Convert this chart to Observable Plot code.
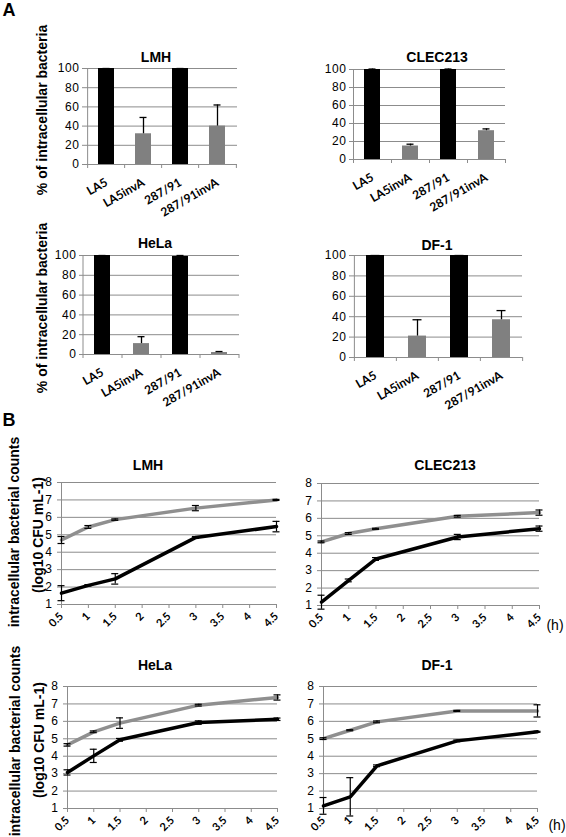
<!DOCTYPE html>
<html><head><meta charset="utf-8">
<script src="https://cdn.jsdelivr.net/npm/d3@7"></script>
<script src="https://cdn.jsdelivr.net/npm/@observablehq/plot@0.6"></script>
<style>
body{margin:0;background:#fff;}
#fig{position:relative;width:566px;height:837px;background:#fff;overflow:hidden;font-family:"Liberation Sans",Arial,sans-serif;color:#000;}
.abs{position:absolute;white-space:nowrap;line-height:1;}
.title{font-weight:bold;font-size:14px;transform:translate(-50%,-50%);}
.ylab{font-weight:bold;font-size:14px;transform:translate(-50%,-50%) rotate(-90deg);}
.panel{font-weight:bold;font-size:18px;transform:translate(-50%,-50%);}
.unit{font-size:14px;transform:translate(-50%,-50%);}
g[aria-label="y-axis tick label"] text{letter-spacing:0.6px;}
</style></head><body><div id="fig"></div><script>
// ---------- data ----------
const barCategories = ["LA5", "LA5invA", "287/91", "287/91invA"];
const pctTicks = [0, 20, 40, 60, 80, 100];

const lmhPct = [100, 32, 100, 40];
const lmhPctErr = [0, 17, 0, 22];
const clecPct = [100, 15, 100, 32];
const clecPctErr = [0.5, 2, 0.5, 2];
const helaPct = [100, 11, 99, 2];
const helaPctErr = [0, 7, 1, 1];
const df1Pct = [100, 21, 100, 37];
const df1PctErr = [0, 16, 0, 9];

const hours = [0.5, 1, 1.5, 3, 4.5];
const timeTicks = [0.5, 1, 1.5, 2, 2.5, 3, 3.5, 4, 4.5];
const countTicks = [1, 2, 3, 4, 5, 6, 7, 8];

const lmhSeries1 = [4.7, 5.45, 5.87, 6.53, 7.0];
const lmhSeries1Err = [0.2, 0.08, 0.04, 0.15, 0.03];
const lmhSeries2 = [1.65, 2.1, 2.47, 4.85, 5.47];
const lmhSeries2Err = [0.43, 0.04, 0.3, 0.05, 0.3];

const clecSeries1 = [4.65, 5.13, 5.4, 6.12, 6.33];
const clecSeries1Err = [0.05, 0.05, 0.03, 0.05, 0.15];
const clecSeries2 = [1.19, 2.44, 3.67, 4.93, 5.41];
const clecSeries2Err = [0.4, 0.08, 0.08, 0.15, 0.15];

const helaSeries1 = [4.65, 5.4, 5.9, 6.93, 7.37];
const helaSeries1Err = [0.07, 0.05, 0.3, 0.05, 0.15];
const helaSeries2 = [3.07, 4.02, 4.94, 5.93, 6.12];
const helaSeries2Err = [0.15, 0.38, 0.08, 0.1, 0.07];

const df1Series1 = [5.01, 5.49, 5.97, 6.6, 6.6];
const df1Series1Err = [0.05, 0.03, 0.05, 0.03, 0.35];
const df1Series2 = [1.15, 1.67, 3.45, 4.88, 5.4];
const df1Series2Err = [0.48, 1.1, 0.05, 0.05, 0.03];

// ---------- drawing ----------
const GRID = "#8c8c8c";
const GRAYBAR = "#808080";
const GRAYLINE = "#8f8f8f";
const fig = document.getElementById("fig");
const M = {left: 45, right: 30, top: 12, bottom: 60};

function place(node, left, top) {
  node.style.position = "absolute";
  node.style.left = left + "px";
  node.style.top = top + "px";
  fig.appendChild(node);
}
function label(text, x, y, cls) {
  const d = document.createElement("div");
  d.className = "abs " + cls;
  d.textContent = text;
  d.style.left = x + "px";
  d.style.top = y + "px";
  fig.appendChild(d);
}

function barPanel(values, errors, frame) {
  const [x0, y0, x1, y1] = frame;
  const fw = x1 - x0, fh = y1 - y0;
  const step = fw / barCategories.length;
  const tickLen = 4 * 100 / fh;
  const rows = barCategories.map((c, i) => ({cat: c, v: values[i], e: errors[i]}));
  const svg = Plot.plot({
    width: fw + M.left + M.right, height: fh + M.top + M.bottom,
    marginLeft: M.left, marginRight: M.right, marginTop: M.top, marginBottom: M.bottom,
    style: {background: "none", overflow: "visible", fontFamily: "Liberation Sans, Arial, sans-serif"},
    x: {domain: barCategories, paddingInner: 0.58, paddingOuter: 0.29, label: null, axis: null},
    y: {domain: [0, 100], label: null, axis: null},
    marks: [
      Plot.ruleY(pctTicks.filter(t => t > 0), {stroke: GRID, strokeWidth: 1}),
      Plot.barY(rows, {x: "cat", y: "v", fill: d => d.cat.endsWith("invA") ? GRAYBAR : "#000"}),
      Plot.ruleX(rows, {x: "cat", y1: "v", y2: d => d.v + d.e, stroke: "#000", strokeWidth: 1.3}),
      Plot.tickY(rows, {x: "cat", y: d => d.v + d.e, stroke: "#000", strokeWidth: 1.3, insetLeft: 4.5, insetRight: 4.5}),
      Plot.ruleY([0], {stroke: GRID}),
      Plot.ruleX([barCategories[0]], {y1: 0, y2: 100, stroke: GRID, dx: -step / 2}),
      Plot.ruleX(barCategories, {y1: 0, y2: -tickLen, stroke: GRID, dx: -step / 2}),
      Plot.ruleX([barCategories[barCategories.length - 1]], {y1: 0, y2: -tickLen, stroke: GRID, dx: step / 2}),
      Plot.axisY({ticks: pctTicks, tickSize: 4, tickPadding: 3, stroke: GRID, fill: "#000", fontSize: 12, tickFormat: d => String(d)}),
      Plot.axisX({tickSize: 0, tickPadding: 17, tickRotate: -30, fill: "#000", fontSize: 12, fontWeight: "bold", fontFamily: "Lato, Liberation Sans, sans-serif"})
    ]
  });
  place(svg, x0 - M.left, y0 - M.top);
}

function linePanel(s1, e1, s2, e2, frame) {
  const [x0, y0, x1, y1] = frame;
  const fw = x1 - x0, fh = y1 - y0;
  const r1 = hours.map((t, i) => ({t, v: s1[i], e: e1[i]}));
  const r2 = hours.map((t, i) => ({t, v: s2[i], e: e2[i]}));
  const all = r1.concat(r2);
  const svg = Plot.plot({
    width: fw + M.left + M.right, height: fh + M.top + M.bottom,
    marginLeft: M.left, marginRight: M.right, marginTop: M.top, marginBottom: M.bottom,
    style: {background: "none", overflow: "visible", fontFamily: "Liberation Sans, Arial, sans-serif"},
    x: {domain: [0.5, 4.5], label: null, axis: null},
    y: {domain: [1, 8], label: null, axis: null},
    marks: [
      Plot.ruleY(countTicks.slice(1), {stroke: GRID, strokeWidth: 1}),
      Plot.ruleY([1], {stroke: GRID}),
      Plot.ruleX([0.5], {y1: 1, y2: 8, stroke: GRID}),
      Plot.axisY({ticks: countTicks, tickSize: 4, tickPadding: 5, stroke: GRID, fill: "#000", fontSize: 12, tickFormat: d => String(d)}),
      Plot.axisX({ticks: timeTicks, tickSize: 4, tickPadding: 6, tickRotate: -45, stroke: GRID, fill: "#000", fontSize: 11, fontWeight: "bold", fontFamily: "Lato, Liberation Sans, sans-serif", tickFormat: d => String(d)}),
      Plot.line(r1, {x: "t", y: "v", stroke: GRAYLINE, strokeWidth: 3.5}),
      Plot.line(r2, {x: "t", y: "v", stroke: "#000", strokeWidth: 3.5}),
      Plot.ruleX(all, {x: "t", y1: d => d.v - d.e, y2: d => d.v + d.e, stroke: "#000", strokeWidth: 1.2}),
      Plot.ruleY(all, {y: d => d.v + d.e, x1: "t", x2: "t", insetLeft: -3.5, insetRight: -3.5, stroke: "#000", strokeWidth: 1.2}),
      Plot.ruleY(all, {y: d => d.v - d.e, x1: "t", x2: "t", insetLeft: -3.5, insetRight: -3.5, stroke: "#000", strokeWidth: 1.2})
    ]
  });
  place(svg, x0 - M.left, y0 - M.top);
}

// Panel A
barPanel(lmhPct, lmhPctErr, [86, 68, 237, 164]);
barPanel(clecPct, clecPctErr, [353, 69, 505, 159]);
barPanel(helaPct, helaPctErr, [83, 255, 239, 354]);
barPanel(df1Pct, df1PctErr, [353, 255, 522, 357]);

// Panel B
linePanel(lmhSeries1, lmhSeries1Err, lmhSeries2, lmhSeries2Err, [61, 482, 276, 604]);
linePanel(clecSeries1, clecSeries1Err, clecSeries2, clecSeries2Err, [321, 483, 539, 605]);
linePanel(helaSeries1, helaSeries1Err, helaSeries2, helaSeries2Err, [67, 686, 277, 808]);
linePanel(df1Series1, df1Series1Err, df1Series2, df1Series2Err, [323, 686, 537, 808]);

// Text
label("A", 9, 10, "panel");
label("B", 9, 420, "panel");
label("LMH", 156, 57, "title");
label("CLEC213", 437, 57, "title");
label("HeLa", 155, 243, "title");
label("DF-1", 437, 245, "title");
label("LMH", 148, 465, "title");
label("CLEC213", 445, 465, "title");
label("HeLa", 155, 665, "title");
label("DF-1", 437, 665, "title");
label("% of intracellular bacteria", 42, 110, "ylab");
label("% of intracellular bacteria", 42, 308, "ylab");
label("intracellular bacterial counts", 14, 532, "ylab");
label("(log10 CFU mL-1)", 38, 535, "ylab");
label("intracellular bacterial counts", 15, 741, "ylab");
label("(log10 CFU mL-1)", 39, 740, "ylab");
label("(h)", 555, 625, "unit");
label("(h)", 557, 825, "unit");
</script></body></html>
